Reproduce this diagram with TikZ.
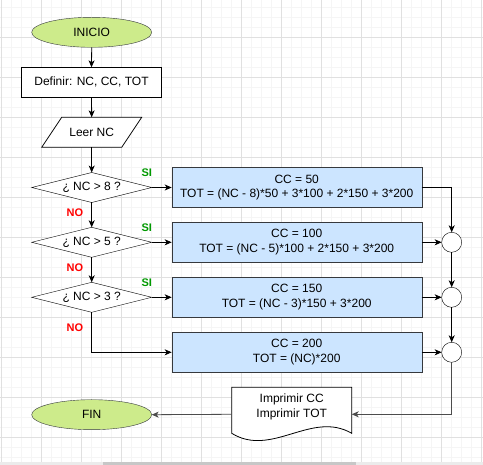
\documentclass[tikz,border=0pt]{standalone}
\usepackage{fontspec}
\setmainfont{Liberation Sans}
\usetikzlibrary{shapes.geometric,arrows.meta}
\definecolor{gridminor}{RGB}{245,245,245}
\definecolor{gridmajor}{RGB}{224,224,224}
\definecolor{termfill}{RGB}{205,235,139}
\definecolor{procfill}{RGB}{204,229,255}
\definecolor{edgecol}{RGB}{54,57,61}
\definecolor{sigreen}{RGB}{0,153,0}
\begin{document}
\begin{tikzpicture}[x=1pt,y=-1pt,
  font=\fontsize{12}{14.5}\selectfont,
  every node/.style={inner sep=0pt,outer sep=0pt},
  term/.style={ellipse,draw=edgecol,fill=termfill,minimum width=120pt,minimum height=30pt},
  plainbox/.style={rectangle,draw=black,fill=white,minimum width=140pt,minimum height=30pt},
  decide/.style={diamond,shape aspect=4,draw=black,fill=white,minimum width=120pt,minimum height=30pt},
  calcbox/.style={rectangle,draw=edgecol,fill=procfill,minimum width=250pt,minimum height=40pt,align=center},
  joint/.style={circle,draw=black,fill=white,minimum size=20pt},
  flow/.style={draw=black,line width=0.8pt,-{Stealth[length=7pt,width=6pt,inset=2pt]}},
  flowgray/.style={draw=black!70,line width=0.8pt,-{Stealth[length=7pt,width=6pt,inset=2pt]}},
  yes/.style={font=\fontsize{11}{13}\selectfont\bfseries,text=sigreen},
  no/.style={font=\fontsize{11}{13}\selectfont\bfseries,text=red}
]
\useasboundingbox (0,0) rectangle (483,465);
\fill[white] (0,0) rectangle (483,465);
% grid
\foreach \gx in {1,11,...,481} \draw[gridminor,line width=0.8pt] (\gx,0) -- (\gx,462);
\foreach \gy in {7,17,...,457} \draw[gridminor,line width=0.8pt] (0,\gy) -- (483,\gy);
\foreach \gx in {1,41,...,481} \draw[gridmajor,line width=0.8pt] (\gx,0) -- (\gx,462);
\foreach \gy in {37,77,...,437} \draw[gridmajor,line width=0.8pt] (0,\gy) -- (483,\gy);
% scrollbar
\fill[black!8] (0,462) rectangle (483,465);
\fill[black!22] (103,462) rectangle (356,465);

% nodes
\node[term] (inicio) at (91.7,32.3) {INICIO};
\node[plainbox] (def) at (91.5,82.3) {Definir: NC, CC, TOT};
\node[rectangle,minimum width=80pt,minimum height=30pt] (leer) at (91.7,132.3) {};
\draw[black,line width=0.8pt,fill=white] (61.7,117.3) -- (141.7,117.3) -- (121.7,147.3) -- (41.7,147.3) -- cycle;
\node at (leer.center) {Leer NC};

\node[decide] (d1) at (91.7,187.5) {¿ NC > 8 ?};
\node[decide] (d2) at (91.7,242.3) {¿ NC > 5 ?};
\node[decide] (d3) at (91.7,297.3) {¿ NC > 3 ?};

\node[calcbox] (b1) at (296.7,187.5) {CC = 50\\TOT = (NC - 8)*50 + 3*100 + 2*150 + 3*200};
\node[calcbox] (b2) at (296.7,242.3) {CC = 100\\TOT = (NC - 5)*100 + 2*150 + 3*200};
\node[calcbox] (b3) at (296.7,297.3) {CC = 150\\TOT = (NC - 3)*150 + 3*200};
\node[calcbox] (b4) at (296.7,352.3) {CC = 200\\TOT = (NC)*200};

\node[joint] (c1) at (451.7,242.3) {};
\node[joint] (c2) at (451.7,297.3) {};
\node[joint] (c3) at (451.7,352.3) {};

% document shape
\draw[black,line width=0.8pt,fill=white] (231.7,387.3) -- (351.7,387.3) -- (351.7,433.3)
  .. controls (311.7,410) and (271.7,458) .. (231.7,433.3) -- cycle;
\node[rectangle,minimum width=120pt,minimum height=54pt,align=center] (doc) at (291.7,414.3)
  {Imprimir CC\\Imprimir TOT\rule[-17pt]{0pt}{17pt}};

\node[term] (fin) at (91.7,414.7) {FIN};

% labels
\node[yes] (si1) at (146.7,172.7) {SI};
\node[yes] (si2) at (146.7,228.0) {SI};
\node[yes] (si3) at (146.7,282.3) {SI};
\node[no] (no1) at (75,212.3) {NO};
\node[no] (no2) at (75,267.7) {NO};
\node[no] (no3) at (75,327.3) {NO};

% connectors
\draw[flow] (inicio.south) -- (def.north);
\draw[flow] (def.south) -- (leer.north);
\draw[flow] (leer.south) -- (d1.north);
\draw[flow] (d1.south) -- (d2.north);
\draw[flow] (d2.south) -- (d3.north);
\draw[flow] (d1.east) -- (b1.west);
\draw[flow] (d2.east) -- (b2.west);
\draw[flow] (d3.east) -- (b3.west);
\draw[flow] (d3.south) |- (b4.west);
\draw[flow] (b1.east) -| (c1.north);
\draw[flow] (b2.east) -- (c1.west);
\draw[flow] (b3.east) -- (c2.west);
\draw[flow] (b4.east) -- (c3.west);
\draw[flow] (c1.south) -- (c2.north);
\draw[flow] (c2.south) -- (c3.north);
\draw[flowgray] (c3.south) |- (doc.east);
\draw[flowgray] (doc.west) -- (fin.east);
\end{tikzpicture}
\end{document}
